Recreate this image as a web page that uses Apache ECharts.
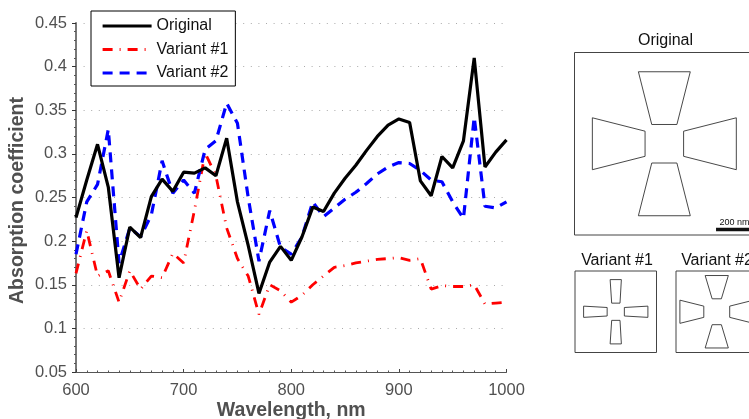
<!DOCTYPE html>
<html><head><meta charset="utf-8">
<style>html,body{margin:0;padding:0;background:#fff;overflow:hidden}#c{width:749px;height:419px}</style>
<script src="https://cdn.jsdelivr.net/npm/echarts@6/dist/echarts.min.js"></script>
</head><body><div id="c"></div>
<script>
const wavelengths=[600,610,620,630,640,650,660,670,680,690,700,710,720,730,740,750,760,770,780,790,800,810,820,830,840,850,860,870,880,890,900,910,920,930,940,950,960,970,980,990,1000];
const original=[0.227,0.27,0.311,0.262,0.158,0.216,0.204,0.251,0.271,0.257,0.279,0.278,0.284,0.275,0.318,0.245,0.195,0.14,0.176,0.194,0.178,0.205,0.239,0.234,0.255,0.272,0.287,0.304,0.320,0.333,0.340,0.336,0.269,0.252,0.297,0.284,0.315,0.41,0.285,0.302,0.316];
const variant1=[0.163,0.212,0.16,0.166,0.13,0.166,0.145,0.16,0.158,0.186,0.175,0.235,0.301,0.275,0.215,0.18,0.16,0.116,0.15,0.143,0.13,0.138,0.15,0.16,0.17,0.172,0.175,0.177,0.179,0.18,0.181,0.178,0.18,0.145,0.149,0.148,0.148,0.15,0.128,0.129,0.13];
const variant2=[0.185,0.245,0.265,0.328,0.175,0.215,0.205,0.23,0.292,0.255,0.27,0.255,0.305,0.315,0.358,0.335,0.25,0.177,0.235,0.193,0.185,0.205,0.245,0.228,0.238,0.248,0.256,0.266,0.277,0.285,0.29,0.289,0.281,0.27,0.268,0.245,0.226,0.342,0.24,0.238,0.245];
// schematic arms, in nanometres from the centre of each unit cell
const armsOriginal=[
 [[-135,355],[121,355],[55,95],[-69,95]],
 [[-135,-355],[121,-355],[55,-95],[-69,-95]],
 [[-362,128],[-102,62],[-102,-62],[-362,-128]],
 [[348,128],[88,62],[88,-62],[348,-128]]];
const armsVariant1=[
 [[-62,355],[62,355],[47,95],[-45,95]],
 [[-45,-95],[47,-95],[62,-355],[-62,-355]],
 [[-355,62],[-95,47],[-95,-47],[-355,-62]],
 [[355,62],[95,47],[95,-47],[355,-62]]];
const armsVariant2=[
 [[-128,400],[128,400],[51,143],[-51,143]],
 [[-128,-400],[128,-400],[51,-143],[-51,-143]],
 [[-407,128],[-143,62],[-143,-62],[-407,-128]],
 [[407,128],[143,62],[143,-62],[407,-128]]];
const scaleBar=[[248,-423],[450,-423]];
const FONT='"Liberation Sans",Arial,sans-serif';
const GREY='#505050';
const pair=a=>wavelengths.map((w,i)=>[w,a[i]]);
const mainSeries=[
 {name:'Original',type:'line',data:pair(original),symbol:'none',lineStyle:{color:'#000',width:3.2},itemStyle:{color:'#000'},z:5,clip:false},
 {name:'Variant #1',type:'line',data:pair(variant1),symbol:'none',lineStyle:{color:'#f00',width:2.8,type:[10,7,1,7]},itemStyle:{color:'#f00'},z:3},
 {name:'Variant #2',type:'line',data:pair(variant2),symbol:'none',lineStyle:{color:'#00f',width:3.2,type:[10,7]},itemStyle:{color:'#00f'},z:4}
];
const panels=[
 {left:574.5,top:52.5,size:182.5,arms:armsOriginal},
 {left:575,top:271,size:81.5,arms:armsVariant1},
 {left:676,top:271,size:81.5,arms:armsVariant2}
];
const grids=[{left:76,top:23,width:430.5,height:349,containLabel:false,outerBoundsMode:'none'}];
const xAxes=[{type:'value',gridIndex:0,min:600,max:1000,interval:100,
 name:'Wavelength, nm',nameLocation:'middle',nameGap:29,nameMoveOverlap:false,nameTextStyle:{fontFamily:FONT,fontWeight:'bold',fontSize:19.5,color:GREY},
 axisLine:{onZero:false,lineStyle:{color:'#555',width:1}},axisTick:{inside:true,length:3,lineStyle:{color:'#444'}},
 minorTick:{show:true,splitNumber:10,length:1.5,lineStyle:{color:'#555'}},
 axisLabel:{fontFamily:FONT,fontSize:16.5,color:GREY,margin:10,showMinLabel:true,showMaxLabel:true,formatter:v=>String(v)},splitLine:{show:false}}];
const yAxes=[{type:'value',gridIndex:0,min:0.05,max:0.45,interval:0.05,
 name:'Absorption coefficient',nameLocation:'middle',nameGap:48,nameMoveOverlap:false,nameTextStyle:{fontFamily:FONT,fontWeight:'bold',fontSize:19.5,color:GREY,padding:[0,6,0,0]},
 axisLine:{onZero:false,lineStyle:{color:'#777',width:2}},axisTick:{inside:false,length:4,lineStyle:{color:'#333',width:1}},
 minorTick:{show:true,splitNumber:5,length:2,lineStyle:{color:'#555'}},
 axisLabel:{fontFamily:FONT,fontSize:16.5,color:GREY,margin:9,formatter:v=>String(+v.toFixed(2))},
 splitLine:{show:true,lineStyle:{color:'#aaa',width:1,type:[1,6.6]}}}];
const allSeries=mainSeries.slice();
panels.forEach((p,k)=>{
 const g=k+1;
 grids.push({left:p.left,top:p.top,width:p.size,height:p.size,show:true,borderColor:'#444',borderWidth:1,backgroundColor:'#fff',outerBoundsMode:'none'});
 xAxes.push({type:'value',gridIndex:g,min:-450,max:450,show:false});
 yAxes.push({type:'value',gridIndex:g,min:-450,max:450,show:false});
 p.arms.forEach(a=>allSeries.push({type:'line',xAxisIndex:g,yAxisIndex:g,data:a.concat([a[0]]),symbol:'none',silent:true,lineStyle:{color:'#333',width:0.9}}));
});
allSeries.push({type:'line',xAxisIndex:1,yAxisIndex:1,data:scaleBar,symbol:'none',silent:true,lineStyle:{color:'#111',width:3.5,cap:'butt'}});
const titleAt=(text,cx,top,size)=>({text,left:cx,top,textAlign:'center',padding:0,textStyle:{fontFamily:FONT,fontSize:size,fontWeight:'normal',color:'#111'}});
const option={
 animation:false,backgroundColor:'#fff',
 title:[titleAt('Original',665.5,32.5,16),titleAt('Variant #1',617,253,16),titleAt('Variant #2',717,253,16),titleAt('200 nm',734.5,218,9)],
 legend:{data:['Original','Variant #1','Variant #2'],orient:'vertical',left:91,top:11,
  backgroundColor:'#fff',borderColor:'#000',borderWidth:1,borderRadius:0,padding:[7,7,5,10],
  itemWidth:49,itemHeight:14,itemGap:7.5,itemStyle:{opacity:0},lineStyle:{width:3.2},
  textStyle:{fontFamily:FONT,fontSize:16,color:'#111'}},
 grid:grids,xAxis:xAxes,yAxis:yAxes,series:allSeries
};
const chart=echarts.init(document.getElementById('c'),null,{renderer:'canvas'});
chart.setOption(option);
</script></body></html>
